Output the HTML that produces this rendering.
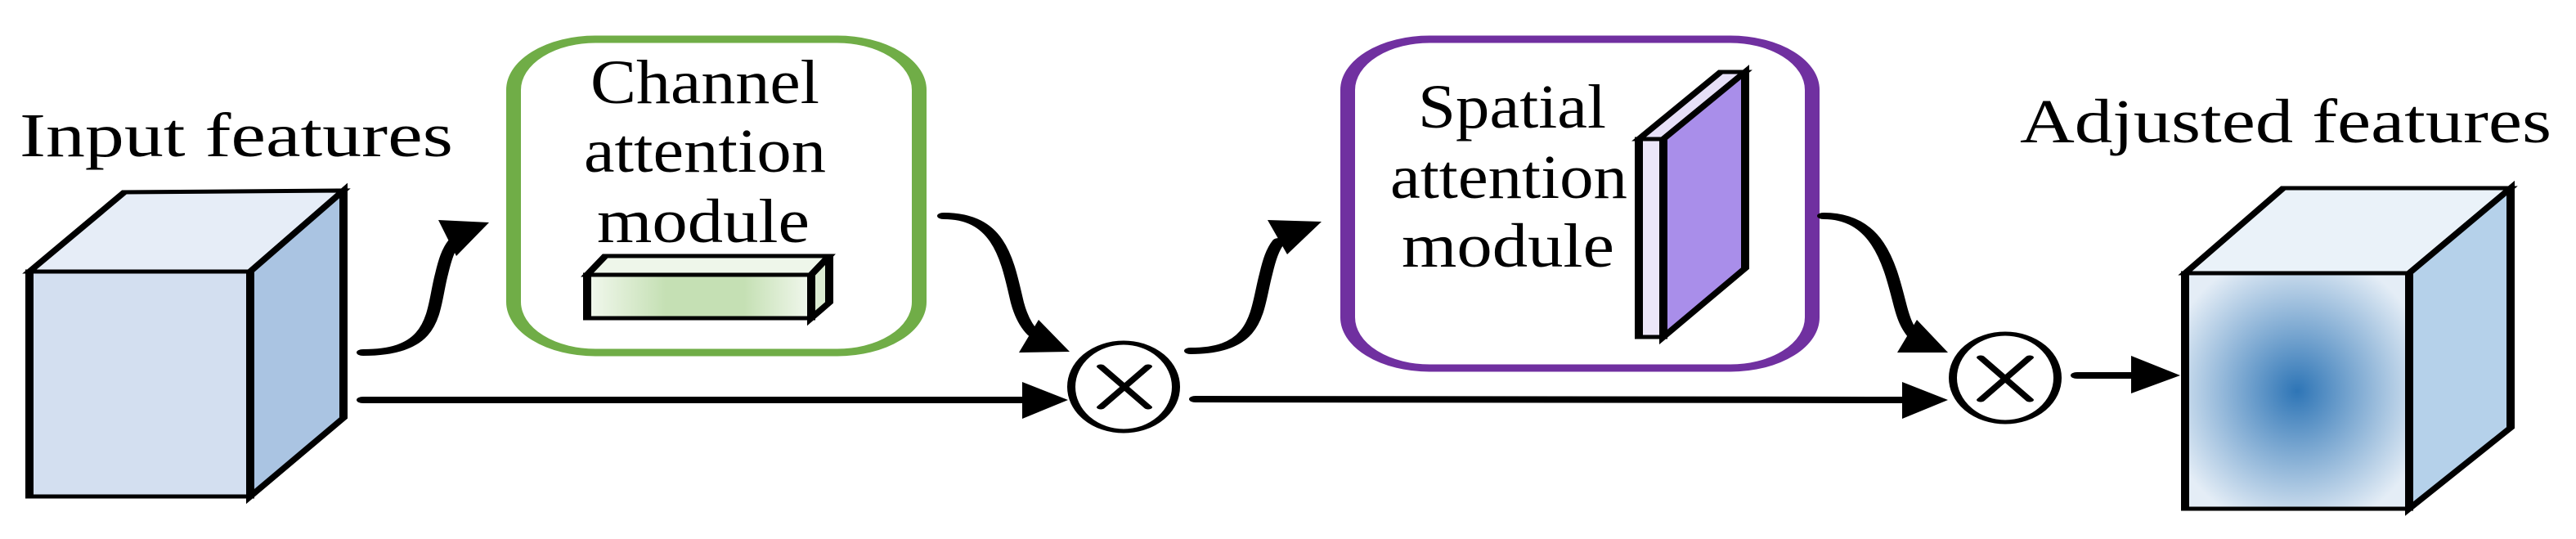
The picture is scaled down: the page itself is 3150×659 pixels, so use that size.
<!DOCTYPE html>
<html><head><meta charset="utf-8"><style>html,body{margin:0;padding:0;background:#fff}svg{display:block}</style></head>
<body>
<svg width="3150" height="659" viewBox="0 0 1575 659" preserveAspectRatio="none" xmlns="http://www.w3.org/2000/svg">
<defs>
<linearGradient id="g1" x1="0" x2="1" y1="0" y2="0">
<stop offset="0" stop-color="#f2f8ee"/><stop offset="0.35" stop-color="#c5e0b4"/><stop offset="0.7" stop-color="#c5e0b4"/><stop offset="1" stop-color="#f2f8ee"/></linearGradient>
<radialGradient id="g2" cx="0.5" cy="0.5" r="0.6">
<stop offset="0" stop-color="#2e75b6"/><stop offset="1" stop-color="#e4edf6"/></radialGradient>
</defs>
<g font-family="Liberation Serif, serif" font-size="76" fill="#000">
<text x="12" y="191" textLength="265" lengthAdjust="spacingAndGlyphs">Input features</text>
<text x="361" y="126" textLength="140" lengthAdjust="spacingAndGlyphs">Channel</text>
<text x="357" y="210" textLength="148" lengthAdjust="spacingAndGlyphs">attention</text>
<text x="365" y="296" textLength="130" lengthAdjust="spacingAndGlyphs">module</text>
<text x="867" y="156" textLength="115" lengthAdjust="spacingAndGlyphs">Spatial</text>
<text x="850" y="242" textLength="145" lengthAdjust="spacingAndGlyphs">attention</text>
<text x="857" y="326" textLength="130" lengthAdjust="spacingAndGlyphs">module</text>
<text x="1235" y="174" textLength="325" lengthAdjust="spacingAndGlyphs">Adjusted features</text>
</g>
<g stroke="#000" stroke-width="5" stroke-linejoin="miter">
<polygon points="18,332 76,235 210,233 153,332" fill="#e6edf7"/>
<polygon points="153,332 210,233 210,511 153,607" fill="#aac4e2"/>
<rect x="18" y="332" width="135" height="275" fill="#d3dff0"/>
<polygon points="359,336 370,313 507,313 496,336" fill="#eef6ea"/>
<polygon points="496,336 507,313 507,370 496,389" fill="#dcecd2"/>
<rect x="359" y="336" width="137" height="53" fill="url(#g1)"/>
<polygon points="1002,170 1052,88 1067,88 1017,170" fill="#e6dff7"/>
<polygon points="1017,170 1067,88 1067,328 1017,412" fill="#a98eea"/>
<rect x="1002" y="170" width="15" height="242" fill="#ece6f8"/>
<polygon points="1336,334 1396,230 1535,230 1473,334" fill="#eaf2f9"/>
<polygon points="1473,334 1535,230 1535,523 1473,622" fill="#b5d1ea"/>
<rect x="1336" y="334" width="137" height="288" fill="url(#g2)"/>
</g>
<rect x="314" y="48" width="248" height="383" rx="50" ry="62" fill="none" stroke="#70ad47" stroke-width="9"/>
<rect x="824" y="48" width="284" height="402" rx="50" ry="62" fill="none" stroke="#7030a0" stroke-width="9"/>
<g fill="none" stroke="#000" stroke-width="8" stroke-linecap="round">
<path d="M222,431 C 268,431 264,380 270,335 C 272,318 274,305 278,295"/>
<path d="M222,489 L 630,489"/>
<path d="M577,264 C 612,264 616,320 622,370 C 624,385 627,398 632,408"/>
<path d="M728,429 C 770,429 768,380 774,335 C 776,318 778,305 782,295"/>
<path d="M731,488 L 1170,489"/>
<path d="M1115,264 C 1150,264 1156,330 1162,375 C 1164,390 1166,400 1170,410"/>
<path d="M1270,459 L 1310,459"/>
</g>
<g fill="#000">
<polygon points="268,269 299,272 279,313"/>
<polygon points="625,467 653,489 625,512"/>
<polygon points="623,431 654,430 635,391"/>
<polygon points="775,269 808,271 787,311"/>
<polygon points="1163,467 1191,489 1163,512"/>
<polygon points="1160,431 1191,431 1172,391"/>
<polygon points="1303,435 1333,459 1303,481"/>
</g>
<g fill="#fff" stroke="#000" stroke-width="5">
<ellipse cx="687" cy="473" rx="32" ry="54"/>
<ellipse cx="1226" cy="462" rx="32" ry="54"/>
</g>
<g stroke="#000" stroke-width="5" stroke-linecap="round">
<line x1="673" y1="448" x2="702" y2="498"/><line x1="702" y1="448" x2="673" y2="498"/>
<line x1="1211" y1="437" x2="1241" y2="489"/><line x1="1241" y1="437" x2="1211" y2="489"/>
</g>
</svg>
</body></html>
